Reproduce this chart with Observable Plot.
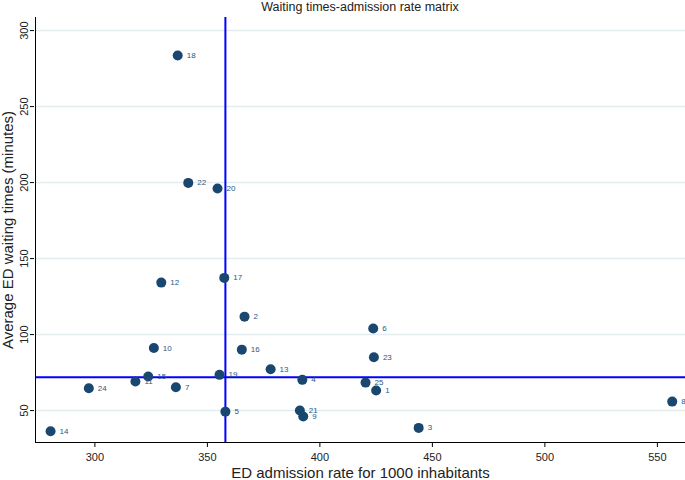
<!DOCTYPE html>
<html><head><meta charset="utf-8">
<script src="https://cdn.jsdelivr.net/npm/d3@7"></script>
<script src="https://cdn.jsdelivr.net/npm/@observablehq/plot@0.6"></script>
<style>
body{margin:0;background:#fff;font-family:"Liberation Sans",Arial,sans-serif;}
#title{margin-left:35px;width:650px;height:15px;text-align:center;font-size:12.5px;color:#222;line-height:15px;}
svg{display:block}
</style></head><body>
<div id="title">Waiting times-admission rate matrix</div>
<div id="chart"></div>
<script>
const ids = [1,2,3,4,5,6,7,8,9,10,11,12,13,14,15,16,17,18,19,20,21,22,23,24,25];
const admission = [425,366.5,443.9,392.2,358,423.7,336,556.6,392.6,326.2,318,329.5,378.1,280.3,323.7,365.3,357.5,336.8,355.4,354.5,391.1,341.5,424,297.3,420.3];
const waiting = [63.2,111.8,38.6,70.2,49.3,104,65.3,55.9,46.1,91.2,69.1,134.2,77.2,36.4,72.4,90.1,137.3,283.6,73.5,196.1,50,199.8,85.1,64.7,68.4];
const xTicks = [300,350,400,450,500,550];
const yTicks = [50,100,150,200,250,300];
const refAdmission = 358;
const refWaiting = 72;
const xLabel = "ED admission rate for 1000 inhabitants";
const yLabel = "Average ED waiting times (minutes)";

const data = ids.map((id,i)=>({id, x: admission[i], y: waiting[i]}));
const xDomain = [273.6, 562.5];
const yDomain = [29, 308.6];
const navy = "#1a476f";

const chart = Plot.plot({
  width: 685, height: 465,
  marginTop: 2, marginBottom: 38, marginLeft: 35, marginRight: 0,
  style: {fontFamily: '"Liberation Sans", Arial, sans-serif', background: "#fff", color: "#333"},
  x: {domain: xDomain, axis: null},
  y: {domain: yDomain, axis: null},
  marks: [
    Plot.gridY(yTicks, {stroke: "#e3ecef", strokeOpacity: 1, strokeWidth: 1.5}),
    Plot.ruleX([refAdmission], {stroke: "#0000ff", strokeWidth: 2}),
    Plot.ruleY([refWaiting], {stroke: "#0000ff", strokeWidth: 2}),
    Plot.ruleX([xDomain[0]], {stroke: "#000", strokeWidth: 1}),
    Plot.ruleY([yDomain[0]], {stroke: "#000", strokeWidth: 1}),
    Plot.axisX(xTicks, {label: null, tickSize: 5, tickPadding: 6, fontSize: 11, stroke: "#000", fill: "#222"}),
    Plot.axisY(yTicks, {label: null, tickSize: 4, tickPadding: 3, tickRotate: -90, dx: -1, fontSize: 11, stroke: "#000", fill: "#222"}),
    Plot.dot(data, {x: "x", y: "y", r: 5, fill: navy, stroke: "none"}),
    Plot.text(data, {x: "x", y: "y", text: d => String(d.id), dx: 9, textAnchor: "start", fontSize: 8, fill: "#2a5783"}),
    Plot.text([xLabel], {frameAnchor: "bottom", textAnchor: "middle", lineAnchor: "middle", dy: 31, fontSize: 15, fill: "#222"}),
    Plot.text([yLabel], {frameAnchor: "left", textAnchor: "middle", lineAnchor: "middle", rotate: -90, dx: -27, fontSize: 15, fill: "#222"})
  ]
});
document.getElementById("chart").appendChild(chart);
</script>
</body></html>
